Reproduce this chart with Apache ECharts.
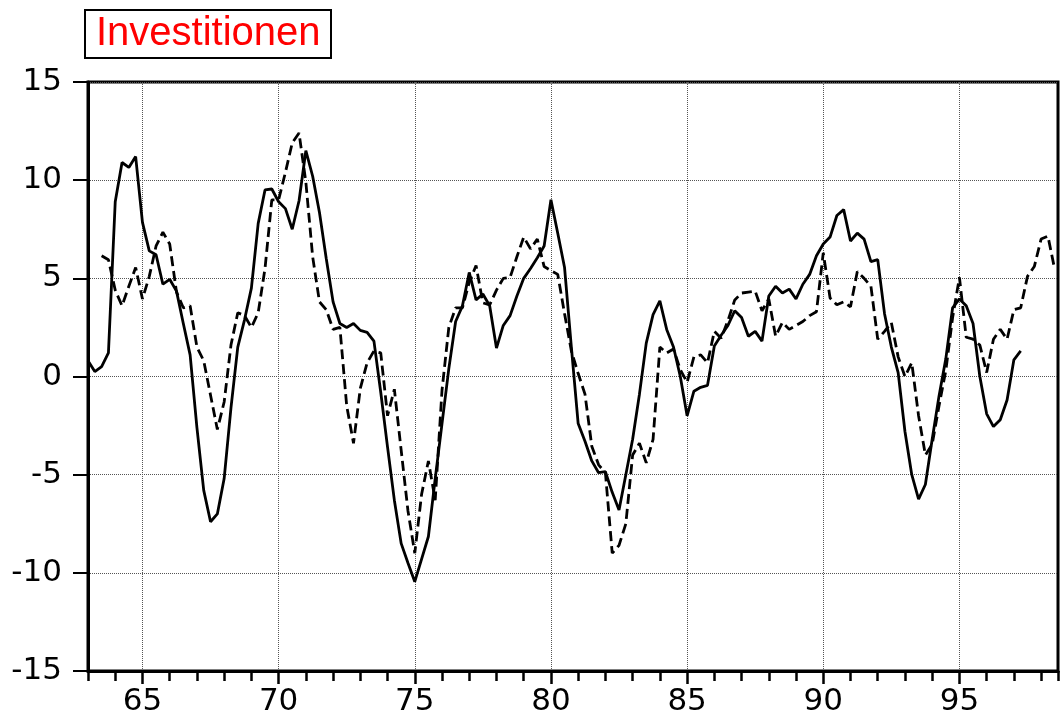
<!DOCTYPE html>
<html><head><meta charset="utf-8">
<script src="https://cdn.jsdelivr.net/npm/echarts@6/dist/echarts.min.js"></script>
<style>html,body{margin:0;padding:0;background:#fff}#c{width:1061px;height:720px}</style>
</head><body><div id="c"></div>
<script>
const chartTitle = 'Investitionen';
const solidStart = 1963.0;   // first quarter of solid series
const dashedStart = 1963.5;  // first quarter of dashed series
const solidValues = [
  0.8, 0.25, 0.5, 1.2,
  8.9, 10.9, 10.65, 11.2,
  7.85, 6.4, 6.2, 4.7,
  4.95, 4.35, 2.7, 1.1,
  -2.6, -5.8, -7.4, -7.0,
  -5.2, -1.6, 1.5, 2.9,
  4.5, 7.8, 9.5, 9.55,
  8.9, 8.55, 7.5, 8.95,
  11.5, 10.2, 8.35, 6.0,
  3.8, 2.7, 2.5, 2.7,
  2.35, 2.25, 1.8, -0.8,
  -3.6, -6.3, -8.5, -9.5,
  -10.45, -9.3, -8.15, -5.2,
  -2.4, 0.4, 2.8, 3.6,
  5.3, 3.9, 4.2, 3.6,
  1.45, 2.6, 3.1, 4.1,
  5.0, 5.5, 6.05, 6.65,
  9.0, 7.3, 5.55, 1.5,
  -2.4, -3.3, -4.3, -4.9,
  -4.85, -5.9, -6.8, -5.0,
  -3.2, -0.9, 1.7, 3.15,
  3.85, 2.4, 1.5, 0.0,
  -2.0, -0.75, -0.55, -0.45,
  1.55, 2.1, 2.6, 3.35,
  3.0, 2.05, 2.3, 1.8,
  4.1, 4.6, 4.25, 4.45,
  3.95, 4.7, 5.2, 6.15,
  6.75, 7.1, 8.2, 8.5,
  6.9, 7.3, 7.0, 5.85,
  5.95, 3.2, 1.5, 0.2,
  -2.8, -5.0, -6.25, -5.5,
  -3.2, -1.0, 0.9, 3.5,
  3.95, 3.6, 2.7, 0.0,
  -1.9, -2.55, -2.2, -1.2,
  0.85, 1.3
];
const dashedValues = [
  6.15, 5.95,
  4.4, 3.6, 4.6, 5.55,
  3.95, 5.1, 6.65, 7.35,
  6.75, 4.3, 3.5, 3.6,
  1.5, 0.8, -0.95, -2.7,
  -1.3, 1.6, 3.25, 3.1,
  2.5, 3.25, 5.5, 9.0,
  9.0, 10.4, 11.9, 12.4,
  9.9, 6.1, 3.8, 3.4,
  2.4, 2.5, -1.5, -3.4,
  -0.6, 0.7, 1.3, 1.2,
  -2.0, -0.65, -3.75, -6.85,
  -9.0, -6.0, -4.3, -6.3,
  -0.7, 2.5, 3.5, 3.5,
  4.8, 5.65, 3.75, 3.65,
  4.4, 5.0, 5.05, 6.1,
  7.1, 6.5, 7.0, 5.6,
  5.4, 5.2, 3.2, 1.3,
  0.15, -0.9, -3.55, -4.5,
  -4.9, -9.0, -8.6, -7.5,
  -4.0, -3.4, -4.4, -3.2,
  1.5, 1.2, 1.4, 0.35,
  -0.3, 1.0, 1.1, 0.7,
  2.3, 1.95, 2.85, 3.9,
  4.25, 4.3, 4.35, 3.35,
  3.95, 2.05, 2.75, 2.4,
  2.6, 2.8, 3.1, 3.3,
  6.3, 4.0, 3.65, 3.8,
  3.55, 5.35, 5.0, 4.6,
  1.9, 2.3, 2.75, 1.0,
  0.0, 0.7, -2.0, -4.0,
  -3.45, -1.5, 0.3, 3.0,
  5.05, 2.0, 1.9, 1.6,
  0.2, 1.9, 2.4, 1.9,
  3.4, 3.5, 5.1, 5.6,
  7.0, 7.15, 5.45
];
const majorYears = [1965, 1970, 1975, 1980, 1985, 1990, 1995];
const xMin = 1963, xMax = 1998.62;
const yMin = -15, yMax = 15, yStep = 5;

const toPairs = (start, vals) => vals.map((v, i) => [start + i * 0.25, v]);
const FONT = 'Liberation Sans, Arial, sans-serif';
const TICKFONT = 'DejaVu Sans, sans-serif';

const chart = echarts.init(document.getElementById('c'));
chart.setOption({
  animation: false,
  backgroundColor: '#fff',
  title: {
    text: chartTitle, left: 85, top: 10,
    padding: [3, 11, 3, 11],
    borderColor: '#000', borderWidth: 2,
    textStyle: { color: '#ff0000', fontSize: 40, fontWeight: 'normal', fontFamily: FONT, lineHeight: 42 }
  },
  grid: { left: 88, right: -3, top: 82, bottom: 49, show: true, borderColor: '#000', borderWidth: 3 },
  xAxis: [
    {
      type: 'value', min: xMin, max: xMax, interval: 1,
      axisLine: { show: true, onZero: false, lineStyle: { color: '#000', width: 3 } },
      axisTick: { show: true, length: 10, lineStyle: { color: '#000', width: 2.5 } },
      axisLabel: {
        fontSize: 31, color: '#000', fontFamily: TICKFONT, margin: 15,
        formatter: v => majorYears.includes(v) ? String(v % 100) : ''
      },
      splitLine: { show: false }
    },
    {
      type: 'value', min: xMin, max: xMax, position: 'bottom',
      axisLine: { show: false, onZero: false },
      axisTick: { show: true, customValues: majorYears, length: 13, lineStyle: { color: '#000', width: 2.5 } },
      axisLabel: { show: false },
      splitLine: { show: true, lineStyle: { type: 'dotted', color: '#555', width: 1 } }
    }
  ],
  yAxis: {
    type: 'value', min: yMin, max: yMax, interval: yStep,
    axisLine: { show: true, onZero: false, lineStyle: { color: '#000', width: 3 } },
    axisTick: { show: true, length: 15, lineStyle: { color: '#000', width: 2 } },
    axisLabel: { fontSize: 31, color: '#000', fontFamily: TICKFONT, margin: 26 },
    splitLine: { show: true, lineStyle: { type: 'dotted', color: '#555', width: 1 } }
  },
  series: [
    {
      type: 'line', xAxisIndex: 0, data: toPairs(solidStart, solidValues),
      showSymbol: false, lineStyle: { color: '#000', width: 2.8 }, z: 3
    },
    {
      type: 'line', xAxisIndex: 0, data: toPairs(dashedStart, dashedValues),
      showSymbol: false, lineStyle: { color: '#000', width: 2.8, type: [10, 5] }, z: 3
    }
  ]
});
</script>
</body></html>
